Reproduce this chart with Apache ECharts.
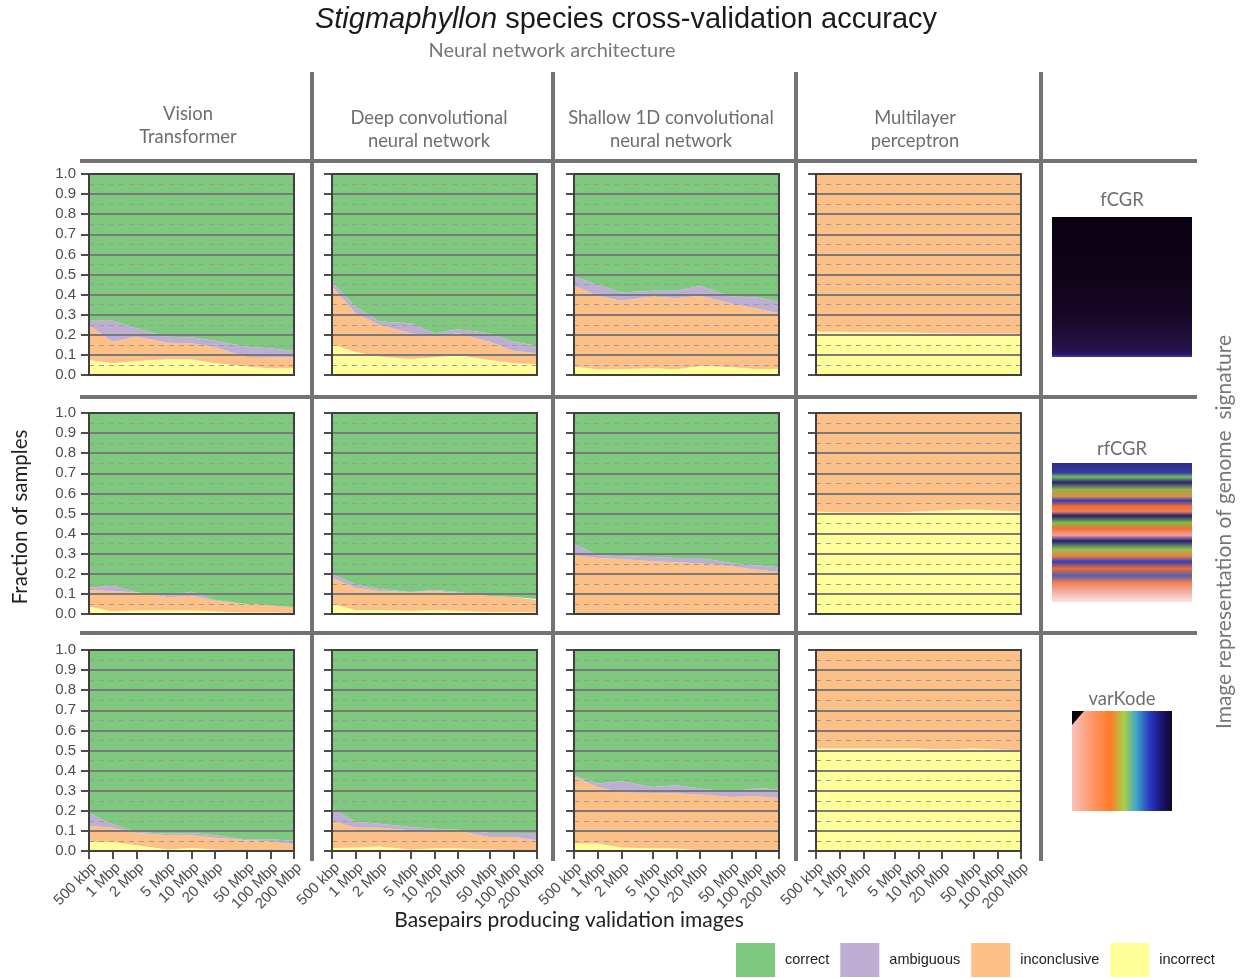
<!DOCTYPE html>
<html>
<head>
<meta charset="utf-8">
<script src="https://cdn.jsdelivr.net/npm/echarts@6/dist/echarts.min.js"></script>
<style>
  html, body { margin: 0; padding: 0; background: #ffffff; }
  #chart { width: 1243px; height: 978px; }
</style>
</head>
<body>
<div id="chart"></div>
<script>
// Sequencing depth used to build each validation image (log-spaced)
const basepairs = [5e5, 1e6, 2e6, 5e6, 1e7, 2e7, 5e7, 1e8, 2e8];
const basepairLabels = ['500 kbp', '1 Mbp', '2 Mbp', '5 Mbp', '10 Mbp', '20 Mbp', '50 Mbp', '100 Mbp', '200 Mbp'];

const architectures = ['Vision\nTransformer', 'Deep convolutional\nneural network', 'Shallow 1D convolutional\nneural network', 'Multilayer\nperceptron'];
const representations = ['fCGR', 'rfCGR', 'varKode'];
const outcomes = ['correct', 'ambiguous', 'inconclusive', 'incorrect'];

// Fractions per panel, row-major: fCGR (ViT, CNN, 1D CNN, MLP), rfCGR (...), varKode (...)
const incorrect = [
  [0.075, 0.058, 0.070, 0.078, 0.078, 0.058, 0.042, 0.033, 0.033],
  [0.153, 0.115, 0.092, 0.080, 0.088, 0.100, 0.075, 0.058, 0.055],
  [0.042, 0.028, 0.028, 0.033, 0.028, 0.045, 0.038, 0.030, 0.030],
  [0.215, 0.215, 0.213, 0.212, 0.210, 0.208, 0.205, 0.205, 0.205],
  [0.037, 0.012, 0.017, 0.017, 0.017, 0.013, 0.008, 0.007, 0.005],
  [0.050, 0.020, 0.020, 0.015, 0.020, 0.015, 0.010, 0.010, 0.008],
  [0.000, 0.000, 0.000, 0.000, 0.000, 0.000, 0.000, 0.000, 0.000],
  [0.510, 0.505, 0.505, 0.505, 0.510, 0.515, 0.520, 0.515, 0.510],
  [0.045, 0.045, 0.028, 0.008, 0.015, 0.007, 0.003, 0.003, 0.003],
  [0.015, 0.017, 0.023, 0.007, 0.012, 0.012, 0.007, 0.003, 0.003],
  [0.037, 0.037, 0.017, 0.012, 0.012, 0.003, 0.000, 0.000, 0.000],
  [0.510, 0.510, 0.510, 0.510, 0.510, 0.505, 0.510, 0.505, 0.500]
];
const inconclusive = [
  [0.171, 0.108, 0.120, 0.082, 0.080, 0.080, 0.048, 0.055, 0.055],
  [0.287, 0.192, 0.157, 0.128, 0.103, 0.108, 0.091, 0.063, 0.053],
  [0.401, 0.366, 0.342, 0.357, 0.354, 0.349, 0.316, 0.302, 0.277],
  [0.785, 0.785, 0.787, 0.788, 0.790, 0.792, 0.795, 0.795, 0.795],
  [0.083, 0.101, 0.091, 0.066, 0.074, 0.053, 0.042, 0.035, 0.028],
  [0.130, 0.110, 0.095, 0.095, 0.095, 0.090, 0.080, 0.075, 0.062],
  [0.292, 0.279, 0.274, 0.262, 0.257, 0.251, 0.238, 0.221, 0.209],
  [0.490, 0.495, 0.495, 0.495, 0.490, 0.485, 0.480, 0.485, 0.490],
  [0.081, 0.071, 0.062, 0.070, 0.063, 0.059, 0.050, 0.045, 0.030],
  [0.135, 0.099, 0.093, 0.096, 0.091, 0.088, 0.063, 0.067, 0.050],
  [0.332, 0.282, 0.274, 0.277, 0.274, 0.278, 0.269, 0.272, 0.264],
  [0.490, 0.490, 0.490, 0.490, 0.490, 0.495, 0.490, 0.495, 0.500]
];
const ambiguous = [
  [0.024, 0.104, 0.043, 0.030, 0.030, 0.032, 0.050, 0.045, 0.032],
  [0.020, 0.033, 0.017, 0.049, 0.017, 0.020, 0.042, 0.045, 0.038],
  [0.047, 0.055, 0.040, 0.029, 0.037, 0.049, 0.036, 0.055, 0.058],
  [0.000, 0.000, 0.000, 0.000, 0.000, 0.000, 0.000, 0.000, 0.000],
  [0.010, 0.028, 0.000, 0.008, 0.020, 0.004, 0.000, 0.000, 0.000],
  [0.020, 0.015, 0.010, 0.000, 0.005, 0.005, 0.000, 0.000, 0.005],
  [0.057, 0.013, 0.013, 0.022, 0.022, 0.028, 0.016, 0.022, 0.024],
  [0.000, 0.000, 0.000, 0.000, 0.000, 0.000, 0.000, 0.000, 0.000],
  [0.063, 0.017, 0.005, 0.008, 0.012, 0.012, 0.005, 0.010, 0.018],
  [0.061, 0.029, 0.020, 0.017, 0.008, 0.006, 0.020, 0.020, 0.037],
  [0.008, 0.017, 0.056, 0.030, 0.041, 0.030, 0.025, 0.042, 0.042],
  [0.000, 0.000, 0.000, 0.000, 0.000, 0.000, 0.000, 0.000, 0.000]
];
const correct = [
  [0.730, 0.730, 0.767, 0.810, 0.812, 0.830, 0.860, 0.867, 0.880],
  [0.540, 0.660, 0.734, 0.743, 0.792, 0.772, 0.792, 0.834, 0.854],
  [0.510, 0.551, 0.590, 0.581, 0.581, 0.557, 0.610, 0.613, 0.635],
  [0.000, 0.000, 0.000, 0.000, 0.000, 0.000, 0.000, 0.000, 0.000],
  [0.870, 0.859, 0.892, 0.909, 0.889, 0.930, 0.950, 0.958, 0.967],
  [0.800, 0.855, 0.875, 0.890, 0.880, 0.890, 0.910, 0.915, 0.925],
  [0.651, 0.708, 0.713, 0.716, 0.721, 0.721, 0.746, 0.757, 0.767],
  [0.000, 0.000, 0.000, 0.000, 0.000, 0.000, 0.000, 0.000, 0.000],
  [0.811, 0.867, 0.905, 0.914, 0.910, 0.922, 0.942, 0.942, 0.949],
  [0.789, 0.855, 0.864, 0.880, 0.889, 0.894, 0.910, 0.910, 0.910],
  [0.623, 0.664, 0.653, 0.681, 0.673, 0.689, 0.706, 0.686, 0.694],
  [0.000, 0.000, 0.000, 0.000, 0.000, 0.000, 0.000, 0.000, 0.000]
];

// ColorBrewer "Accent" fills
const outcomeColors = { correct: '#7fc97f', ambiguous: '#beaed4', inconclusive: '#fdc086', incorrect: '#ffff99' };

// ---- layout ----
const colLeft = [89, 332, 574, 816];
const rowTop = [174, 413, 650];
const panelW = 205;
const panelH = 201;
const sepColor = '#737373';
const inkColor = '#4d4d4d';
const stripFont = 'Lato, "Open Sans", sans-serif';
const tickFont = '"Liberation Sans", Arial, sans-serif';

const logTicks = basepairs.map(b => Math.log10(b));
function bpLabel(v) {
  const i = logTicks.findIndex(t => Math.abs(t - v) < 1e-6);
  return i >= 0 ? basepairLabels[i] : '';
}

const grids = [], xAxes = [], yAxes = [], series = [];
// bottom-to-top stacking order
const stackOrder = [
  ['incorrect', incorrect],
  ['inconclusive', inconclusive],
  ['ambiguous', ambiguous],
  ['correct', correct]
];

for (let r = 0; r < 3; r++) {
  for (let c = 0; c < 4; c++) {
    const p = r * 4 + c;
    grids.push({
      left: colLeft[c], top: rowTop[r], width: panelW, height: panelH,
      show: true, backgroundColor: 'transparent',
      borderColor: '#404040', borderWidth: 2, z: 8
    });
    const bottom = r === 2;
    xAxes.push({
      gridIndex: p, type: 'value',
      min: Math.log10(basepairs[0]), max: Math.log10(basepairs[basepairs.length - 1]),
      axisLine: { show: false },
      splitLine: { show: false },
      axisTick: {
        show: bottom, customValues: logTicks, length: 8, inside: false,
        lineStyle: { color: inkColor, width: 2 }
      },
      axisLabel: {
        show: bottom, customValues: logTicks, formatter: bpLabel,
        rotate: 45, margin: 9, align: 'right', verticalAlign: 'top',
        fontSize: 15, color: inkColor, fontFamily: tickFont
      },
      z: 6
    });
    yAxes.push({
      gridIndex: p, type: 'value', min: 0, max: 1, interval: 0.1,
      axisLine: { show: false },
      axisTick: { show: true, length: 8, lineStyle: { color: inkColor, width: 2 } },
      axisLabel: {
        show: c === 0, margin: 13, fontSize: 15, color: inkColor, fontFamily: tickFont,
        formatter: v => v.toFixed(1)
      },
      splitLine: { show: true, lineStyle: { color: '#7a7a7a', width: 2 } },
      minorTick: { show: false, splitNumber: 2 },
      minorSplitLine: { show: true, lineStyle: { color: '#9c9c9c', width: 1, type: [5, 5] } },
      z: 6
    });
    stackOrder.forEach(([name, table]) => {
      series.push({
        name: name, type: 'line', stack: 'panel' + p,
        xAxisIndex: p, yAxisIndex: p,
        // fraction first so the stack accumulates along y
        data: basepairs.map((b, k) => [table[p][k], Math.log10(b)]),
        encode: { x: 1, y: 0 },
        symbol: 'none', showSymbol: false, smooth: false,
        lineStyle: { width: 0 },
        itemStyle: { color: outcomeColors[name] },
        areaStyle: { color: outcomeColors[name], opacity: 1 },
        silent: true, z: 2
      });
    });
  }
}

// ---- facet strips, separators and titles ----
const graphic = [];
function line(x1, y1, x2, y2) {
  graphic.push({ type: 'line', shape: { x1, y1, x2, y2 }, style: { stroke: sepColor, lineWidth: 4 }, z: 20, silent: true });
}
[312, 553, 796, 1041].forEach(x => line(x, 72, x, 861));
[161, 397, 633].forEach(y => line(80, y, 1197, y));

function text(x, y, str, opts) {
  graphic.push({
    type: 'text', x, y, silent: true, z: 20,
    style: Object.assign({
      text: str, textAlign: 'center', textVerticalAlign: 'middle',
      fill: '#6e6e6e', fontSize: 18.4, fontFamily: stripFont, lineHeight: 23
    }, opts || {})
  });
}

const headerX = [188, 429, 671, 915];
const headerY = [126, 130, 130, 130];
architectures.forEach((a, i) => text(headerX[i], headerY[i], a));

const repLabelY = [200, 449, 699];
representations.forEach((rep, i) => text(1122, repLabelY[i], rep));

// main title with italic genus name
graphic.push({
  type: 'text', x: 626, y: 20, silent: true, z: 20,
  style: {
    text: '{i|Stigmaphyllon}{n| species cross-validation accuracy}',
    textAlign: 'center', textVerticalAlign: 'middle',
    rich: {
      i: { fontStyle: 'italic', fontSize: 29, fontFamily: tickFont, fill: '#1a1a1a', color: '#1a1a1a' },
      n: { fontSize: 29, fontFamily: tickFont, fill: '#1a1a1a', color: '#1a1a1a' }
    }
  }
});
text(552, 51, 'Neural network architecture', { fontSize: 20, fill: '#777777' });
text(569, 920, 'Basepairs producing validation images', { fontSize: 21, fill: '#222222' });
graphic.push({
  type: 'text', x: 20, y: 517, rotation: Math.PI / 2, silent: true, z: 20,
  style: { text: 'Fraction of samples', textAlign: 'center', textVerticalAlign: 'middle', fill: '#222222', fontSize: 20.5, fontFamily: stripFont }
});
graphic.push({
  type: 'text', x: 1224, y: 532, rotation: Math.PI / 2, silent: true, z: 20,
  style: { text: 'Image representation of genome  signature', textAlign: 'center', textVerticalAlign: 'middle', fill: '#777777', fontSize: 21, fontFamily: stripFont }
});

// ---- genome-signature thumbnails ----
function grad(x, y, x2, y2, stops) {
  return new echarts.graphic.LinearGradient(x, y, x2, y2, stops.map(([o, c]) => ({ offset: o, color: c })));
}
graphic.push({
  type: 'rect', shape: { x: 1052, y: 217, width: 140, height: 140 }, silent: true, z: 20,
  style: { fill: grad(0, 0, 0, 1, [[0, '#0a0211'], [0.45, '#100419'], [0.7, '#170826'], [0.9, '#221040'], [0.98, '#2a1560'], [1, '#3040c0']]) }
});
graphic.push({
  type: 'rect', shape: { x: 1052, y: 463, width: 140, height: 139 }, silent: true, z: 20,
  style: {
    fill: grad(0, 0, 0, 1, [
      [0, '#2a2a8a'], [0.07, '#3a3aa0'], [0.1, '#70c060'], [0.14, '#2a2478'], [0.19, '#90b050'],
      [0.24, '#e09040'], [0.27, '#3040c0'], [0.31, '#f06a30'], [0.35, '#e88060'], [0.38, '#222070'],
      [0.43, '#80c048'], [0.47, '#f07030'], [0.52, '#f0a0a0'], [0.56, '#20207a'], [0.62, '#90c050'],
      [0.67, '#f08040'], [0.71, '#3040c0'], [0.76, '#f06a30'], [0.81, '#5060b0'], [0.86, '#f08050'],
      [0.92, '#f4a8a0'], [1, '#fbe4e4']
    ])
  }
});
graphic.push({
  type: 'rect', shape: { x: 1072, y: 711, width: 100, height: 100 }, silent: true, z: 20,
  style: {
    fill: grad(0, 0, 1, 0, [
      [0, '#f8c4bc'], [0.18, '#ff9a70'], [0.38, '#ff7a28'], [0.52, '#a8d048'], [0.64, '#40a8c8'],
      [0.78, '#2838c0'], [0.9, '#1a1470'], [1, '#0e0828']
    ])
  }
});
graphic.push({
  type: 'polygon', shape: { points: [[1072, 711], [1084, 711], [1072, 725]] }, silent: true, z: 21,
  style: { fill: '#050208' }
});

const chart = echarts.init(document.getElementById('chart'), null, { renderer: 'canvas' });
chart.setOption({
  animation: false,
  backgroundColor: '#ffffff',
  grid: grids,
  xAxis: xAxes,
  yAxis: yAxes,
  series: series,
  graphic: graphic,
  legend: {
    data: outcomes, left: 736, top: 943, padding: 0,
    icon: 'rect', itemWidth: 39, itemHeight: 34, itemGap: 11,
    selectedMode: false,
    textStyle: { fontSize: 14.5, color: '#222222', fontFamily: tickFont, padding: [4, 0, 0, 5] }
  }
});
</script>
</body>
</html>
